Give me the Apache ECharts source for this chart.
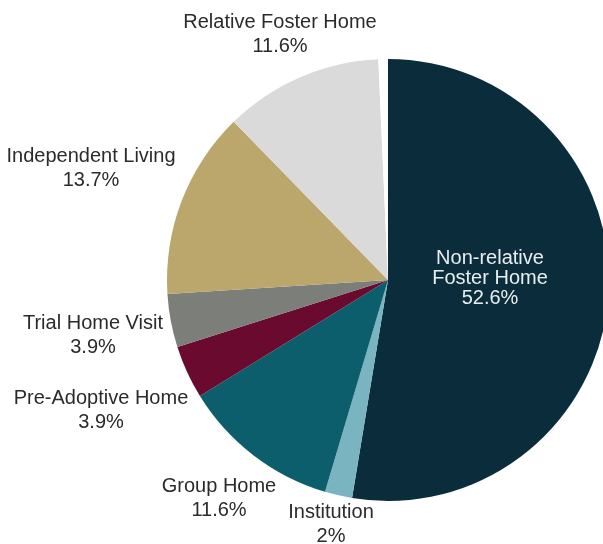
<!DOCTYPE html>
<html>
<head>
<meta charset="utf-8">
<script src="https://cdn.jsdelivr.net/npm/echarts@6/dist/echarts.min.js"></script>
<style>html,body{margin:0;padding:0;background:#fff;}#c{width:603px;height:544px;}</style>
</head>
<body>
<div id="c"></div>
<script>
const categories = ['Non-relative Foster Home', 'Institution', 'Group Home', 'Pre-Adoptive Home', 'Trial Home Visit', 'Independent Living', 'Relative Foster Home', 'Other'];
const values = [52.6, 2, 11.6, 3.9, 3.9, 13.7, 11.6, 0.7];
const colors = ['#0b2c3b', '#7ab4c1', '#0d5e6c', '#6a0a2f', '#7c7e79', '#bba76b', '#dadada', '#ffffff'];
const labelNames = ['Non-relative\nFoster Home', 'Institution', 'Group Home', 'Pre-Adoptive Home', 'Trial Home Visit', 'Independent Living', 'Relative Foster Home', ''];
const labelAnchors = [[490, 278], [331, 524], [219, 498], [101, 410], [93, 335], [91, 168], [280, 34], [0, 0]];

const chart = echarts.init(document.getElementById('c'));
chart.setOption({
  animation: false,
  series: [{
    type: 'pie',
    center: [388, 280],
    radius: [0, 221],
    startAngle: 90,
    clockwise: true,
    avoidLabelOverlap: false,
    itemStyle: { borderWidth: 0 },
    label: {
      show: true,
      position: 'outside',
      fontFamily: 'Liberation Sans, Arial, sans-serif',
      fontSize: 20,
      lineHeight: 24,
      color: '#2b2b2b',
      align: 'center',
      formatter: p => labelNames[p.dataIndex] + '\n' + p.value + '%'
    },
    labelLine: { show: false },
    labelLayout: p => ({
      x: labelAnchors[p.dataIndex][0],
      y: labelAnchors[p.dataIndex][1],
      align: 'center',
      verticalAlign: 'middle'
    }),
    emphasis: { disabled: true },
    data: categories.map((n, i) => {
      const d = { name: n, value: values[i], itemStyle: { color: colors[i] } };
      if (i === 0) d.label = { color: '#e8eef0', lineHeight: 20, position: 'inside' };
      if (i === categories.length - 1) d.label = { show: false };
      return d;
    })
  }]
});
</script>
</body>
</html>
